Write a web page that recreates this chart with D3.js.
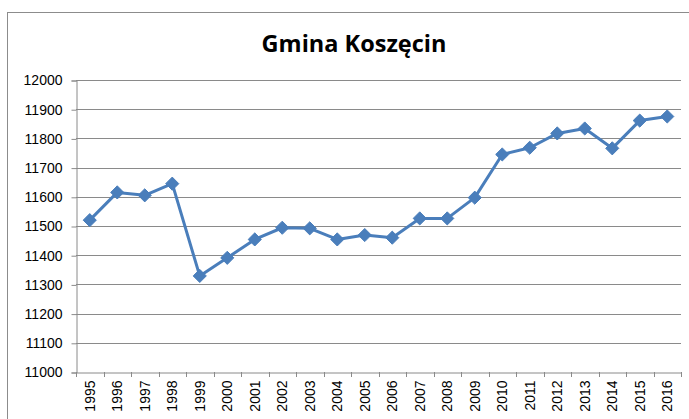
<!DOCTYPE html>
<html>
<head>
<meta charset="utf-8">
<script src="https://cdn.jsdelivr.net/npm/d3@7"></script>
<style>
  body { margin: 0; background: #fff; }
  svg { display: block; }
</style>
</head>
<body>
<svg id="chart" width="689" height="419"></svg>
<script>
// dane
const years = ["1995","1996","1997","1998","1999","2000","2001","2002","2003","2004","2005",
  "2006","2007","2008","2009","2010","2011","2012","2013","2014","2015","2016"];
const population = [11520, 11615, 11605, 11645, 11329, 11391, 11454, 11494, 11492, 11454, 11469,
  11460, 11526, 11526, 11597, 11745, 11768, 11817, 11834, 11766, 11861, 11875];
const yTicks = [11000, 11100, 11200, 11300, 11400, 11500, 11600, 11700, 11800, 11900, 12000];

const svg = d3.select("#chart");
const plotLeft = 76, plotRight = 681, plotTop = 80, plotBottom = 372;

// ramka wykresu
svg.append("rect")
  .attr("x", 7.5).attr("y", 12.5)
  .attr("width", 720).attr("height", 440)
  .attr("fill", "none").attr("stroke", "#8c8c8c").attr("stroke-width", 1);

svg.append("text")
  .attr("x", 354).attr("y", 52)
  .attr("text-anchor", "middle")
  .attr("font-family", "'Open Sans', Lato, sans-serif")
  .attr("font-weight", "bold")
  .attr("font-size", 23.5)
  .attr("fill", "#000")
  .text("Gmina Koszęcin");

const x = d3.scaleBand().domain(years).range([plotLeft, plotRight]);
const y = d3.scaleLinear().domain([11000, 12000]).range([plotBottom, plotTop]);

// linie siatki
svg.append("g")
  .selectAll("line")
  .data(yTicks.slice(1))
  .enter()
  .append("line")
  .attr("x1", plotLeft).attr("x2", plotRight)
  .attr("y1", (d) => Math.round(y(d)) + 0.5)
  .attr("y2", (d) => Math.round(y(d)) + 0.5)
  .attr("stroke", "#8a8a8a");

// os Y
const yAxis = svg.append("g")
  .attr("transform", `translate(${plotLeft + 0.5},0.5)`)
  .call(d3.axisLeft(y).tickValues(yTicks).tickSize(5).tickPadding(9).tickFormat(d3.format("d")));
yAxis.select(".domain").attr("stroke", "#8a8a8a");
yAxis.selectAll(".tick line").attr("stroke", "#8a8a8a");
yAxis.selectAll("text")
  .attr("font-family", "'Liberation Sans', Arial, sans-serif")
  .attr("font-size", 14).attr("fill", "#000");

// os X
const xAxis = svg.append("g")
  .attr("transform", `translate(0,${Math.round(plotBottom) + 0.5})`)
  .call(d3.axisBottom(x).tickSize(0).tickSizeOuter(0));
xAxis.select(".domain").attr("stroke", "#8a8a8a");
xAxis.selectAll(".tick line").remove();
xAxis.selectAll("text")
  .attr("font-family", "'Liberation Sans', Arial, sans-serif")
  .attr("font-size", 14).attr("fill", "#000")
  .attr("transform", "rotate(-90)")
  .attr("text-anchor", "end")
  .attr("x", -8).attr("y", 0).attr("dy", "0.35em");

// znaczniki podzialu kategorii
svg.append("g")
  .selectAll("line")
  .data(years.concat(["end"]))
  .enter()
  .append("line")
  .attr("x1", (d, i) => Math.round(plotLeft + i * x.bandwidth()) + 0.5)
  .attr("x2", (d, i) => Math.round(plotLeft + i * x.bandwidth()) + 0.5)
  .attr("y1", Math.round(plotBottom)).attr("y2", Math.round(plotBottom) + 5)
  .attr("stroke", "#8a8a8a");

const cx = (d, i) => x(years[i]) + x.bandwidth() / 2;

const line = d3.line()
  .x((d, i) => cx(d, i))
  .y((d) => y(d));

svg.append("path")
  .datum(population)
  .attr("d", line)
  .attr("fill", "none")
  .attr("stroke", "#4a7ebb")
  .attr("stroke-width", 3)
  .attr("stroke-linejoin", "round");

svg.append("g")
  .selectAll("path")
  .data(population)
  .enter()
  .append("path")
  .attr("d", d3.symbol().type(d3.symbolDiamond2).size(110))
  .attr("transform", (d, i) => `translate(${cx(d, i)},${y(d)})`)
  .attr("fill", "#4a7ebb")
  .attr("stroke", "#4a7ebb")
  .attr("stroke-width", 1);
</script>
</body>
</html>
